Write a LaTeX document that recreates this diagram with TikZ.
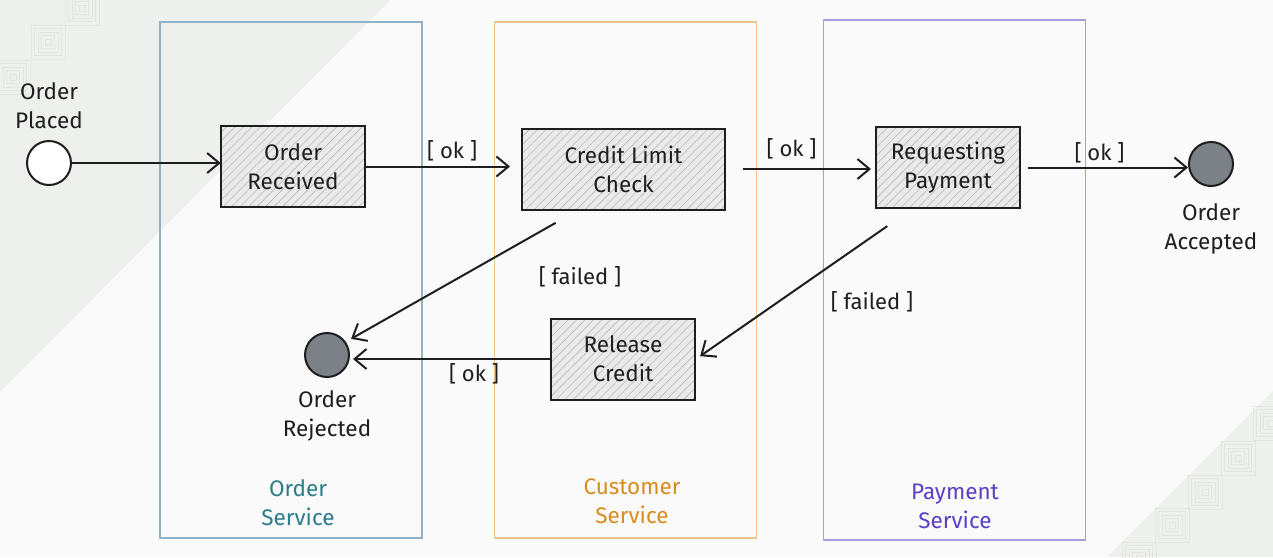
\documentclass[tikz,border=0pt]{standalone}
\usepackage{fontspec}
\setmainfont{Fira Sans}
\usepackage{xcolor}
\usetikzlibrary{arrows.meta,patterns.meta,positioning}

\definecolor{bgmain}{HTML}{F9FAF9}
\definecolor{bgside}{HTML}{EEF0EE}
\definecolor{motif}{HTML}{E2E5E2}
\definecolor{orderlane}{HTML}{8FB4C1}
\definecolor{ordertext}{HTML}{2C7C8A}
\definecolor{custlane}{HTML}{EDC48A}
\definecolor{custtext}{HTML}{D98C1E}
\definecolor{paylane}{HTML}{A99CDD}
\definecolor{paytext}{HTML}{5B3FC6}
\definecolor{ink}{HTML}{1E1E1E}
\definecolor{endfill}{HTML}{7C8187}
\definecolor{boxfill}{HTML}{EAEAEA}

\begin{document}
\begin{tikzpicture}[x=1pt, y=-1pt,
    every node/.style={font=\fontsize{22.5}{29}\selectfont, text=ink, align=center},
    lane/.style={draw=#1, line width=1.5pt, minimum width=262pt, minimum height=516pt, inner sep=0pt},
    state/.style={draw=ink, line width=2pt, preaction={fill=boxfill},
        pattern={Lines[angle=45, distance=6pt, line width=0.6pt]}, pattern color=gray!55,
        minimum width=144pt, minimum height=81pt},
    terminal/.style={circle, draw=ink, line width=2pt, minimum size=44pt, inner sep=0pt},
    flow/.style={draw=ink, line width=2pt, -{Straight Barb[length=12pt, width=20pt, line width=2pt]}},
    guard/.style={font=\fontsize{22}{26}\selectfont}]

    % Background
    \useasboundingbox (0,0) rectangle (1273,557);
    \fill[bgmain] (0,0) rectangle (1273,557);
    \fill[bgside] (0,0) -- (390,0) -- (0,392) -- cycle;
    \fill[bgside] (1273,391) -- (1273,557) -- (1107,557) -- cycle;
    \foreach \cx/\cy in {82/8, 48/42, 13/77, 1270/423, 1238/458, 1205/492, 1172/525, 1139/559}
        \foreach \r in {3,6.5,10,13.5,17}
            \draw[motif, line width=0.8pt] (\cx-\r,\cy-\r) rectangle (\cx+\r,\cy+\r);

    % Lanes
    \node[lane=orderlane] (orderlane) at (291,280) {};
    \node[lane=custlane] (custlane) at (625.5,280) {};
    \node[lane=paylane, minimum height=520pt] (paylane) at (954.5,280) {};
    \node[text=ordertext] (orderlbl) at (298,503) {Order\\Service};
    \node[text=custtext] (custlbl) at (632,501) {Customer\\Service};
    \node[text=paytext] (paylbl) at (955,506) {Payment\\Service};

    % States
    \node[state] (received) at (293,166.5) {Order\\Received};
    \node[state, minimum width=203pt] (credit) at (623.5,169) {Credit Limit\\Check};
    \node[state] (paying) at (948,167.5) {Requesting\\Payment};
    \node[state] (release) at (623,359) {Release\\Credit};

    % Start and end points
    \node[terminal, fill=white] (placed) at (49,163) {};
    \node[above=8pt of placed] (placedlbl) {Order\\Placed};
    \node[terminal, fill=endfill] (accepted) at (1211,164) {};
    \node[below=13pt of accepted] (acceptedlbl) {Order\\Accepted};
    \node[terminal, fill=endfill] (rejected) at (327,355) {};
    \node[below=9pt of rejected] (rejectedlbl) {Order\\Rejected};

    % Transitions
    \draw[flow] (placed.east) -- (placed.east -| received.west);
    \draw[flow, shorten >=11pt] (received.east) -- (received.east -| credit.west)
        node[guard, midway, above=1pt, xshift=9pt] (ok1) {[ ok ]};
    \draw[flow, shorten <=17pt, shorten >=4pt] (credit.east) -- (credit.east -| paying.west)
        node[guard, pos=0.44, above=6pt] (ok2) {[ ok ]};
    \draw[flow, shorten <=7pt] (paying.east) -- (paying.east -| accepted.west)
        node[guard, pos=0.47, above=0pt] (ok3) {[ ok ]};
    \draw[flow, shorten <=25pt, shorten >=6pt] (credit.222) -- (rejected.35);
    \node[guard] (failed1) at (580,277) {[ failed ]};
    \draw[flow, shorten <=30pt, shorten >=5pt] (paying.229) -- (release.east);
    \node[guard] (failed2) at (872,302) {[ failed ]};
    \draw[flow, shorten >=3pt] (release.west) -- (release.west -| rejected.east)
        node[guard, pos=0.38, below=0pt] (ok4) {[ ok ]};
\end{tikzpicture}
\end{document}
